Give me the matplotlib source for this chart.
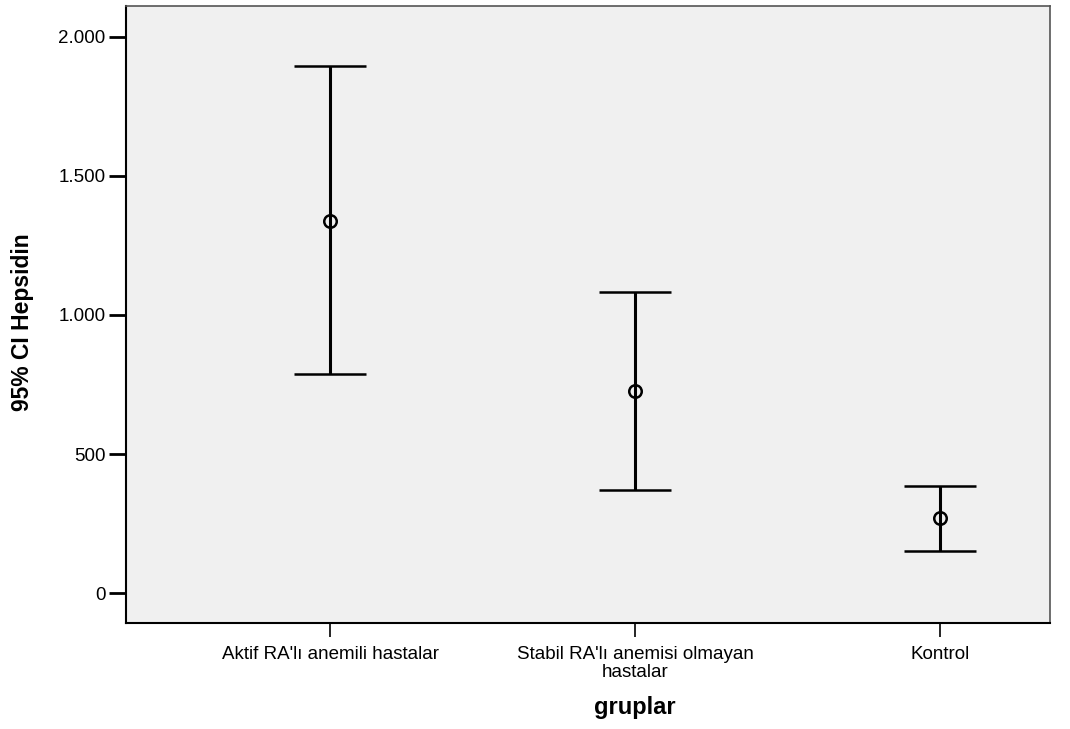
import matplotlib.pyplot as plt
import numpy as np
from matplotlib.ticker import FuncFormatter

groups = ["Aktif RA'lı anemili hastalar",
          "Stabil RA'lı anemisi olmayan\nhastalar",
          "Kontrol"]
means = np.array([1338, 727, 269])
lower = np.array([787, 370, 153])
upper = np.array([1893, 1081, 385])


def thousands(v, pos):
    return f"{int(v):,}".replace(",", ".")


def main():
    plt.rcParams['font.family'] = ['Liberation Sans', 'DejaVu Sans']
    fig = plt.figure(figsize=(10.7, 7.29), dpi=100)
    ax = fig.add_axes([0.118, 0.145, 0.863, 0.847])
    ax.set_facecolor("#f0f0f0")

    x = np.arange(len(groups))
    ax.errorbar(x, means, yerr=[means - lower, upper - means], fmt='o',
                markersize=9, mfc='none', mec='black', mew=1.8,
                ecolor='black', elinewidth=2.2, capsize=26, capthick=2.6)

    ax.set_xlim(-0.669, 2.36)
    ax.set_ylim(-108, 2111)
    ax.set_yticks([0, 500, 1000, 1500, 2000])
    ax.yaxis.set_major_formatter(FuncFormatter(thousands))
    ax.set_xticks(x)
    ax.set_xticklabels(groups, fontsize=13.5, linespacing=1.1)

    ax.tick_params(axis='y', length=12, width=2, labelsize=13.5, pad=3)
    ax.tick_params(axis='x', length=10, width=1.2, pad=6)

    for side in ['left', 'bottom']:
        ax.spines[side].set_color('black')
        ax.spines[side].set_linewidth(1.5)
    for side in ['top', 'right']:
        ax.spines[side].set_color('#555555')
        ax.spines[side].set_linewidth(1.2)

    ax.set_xlabel("gruplar", fontsize=17, fontweight='bold')
    ax.xaxis.set_label_coords(0.551, -0.117)
    ax.set_ylabel("95% CI Hepsidin", fontsize=16.5, fontweight='bold')
    ax.yaxis.set_label_coords(-0.1, 0.487)

    fig.savefig("out.png", dpi=100)


if __name__ == "__main__":
    main()
